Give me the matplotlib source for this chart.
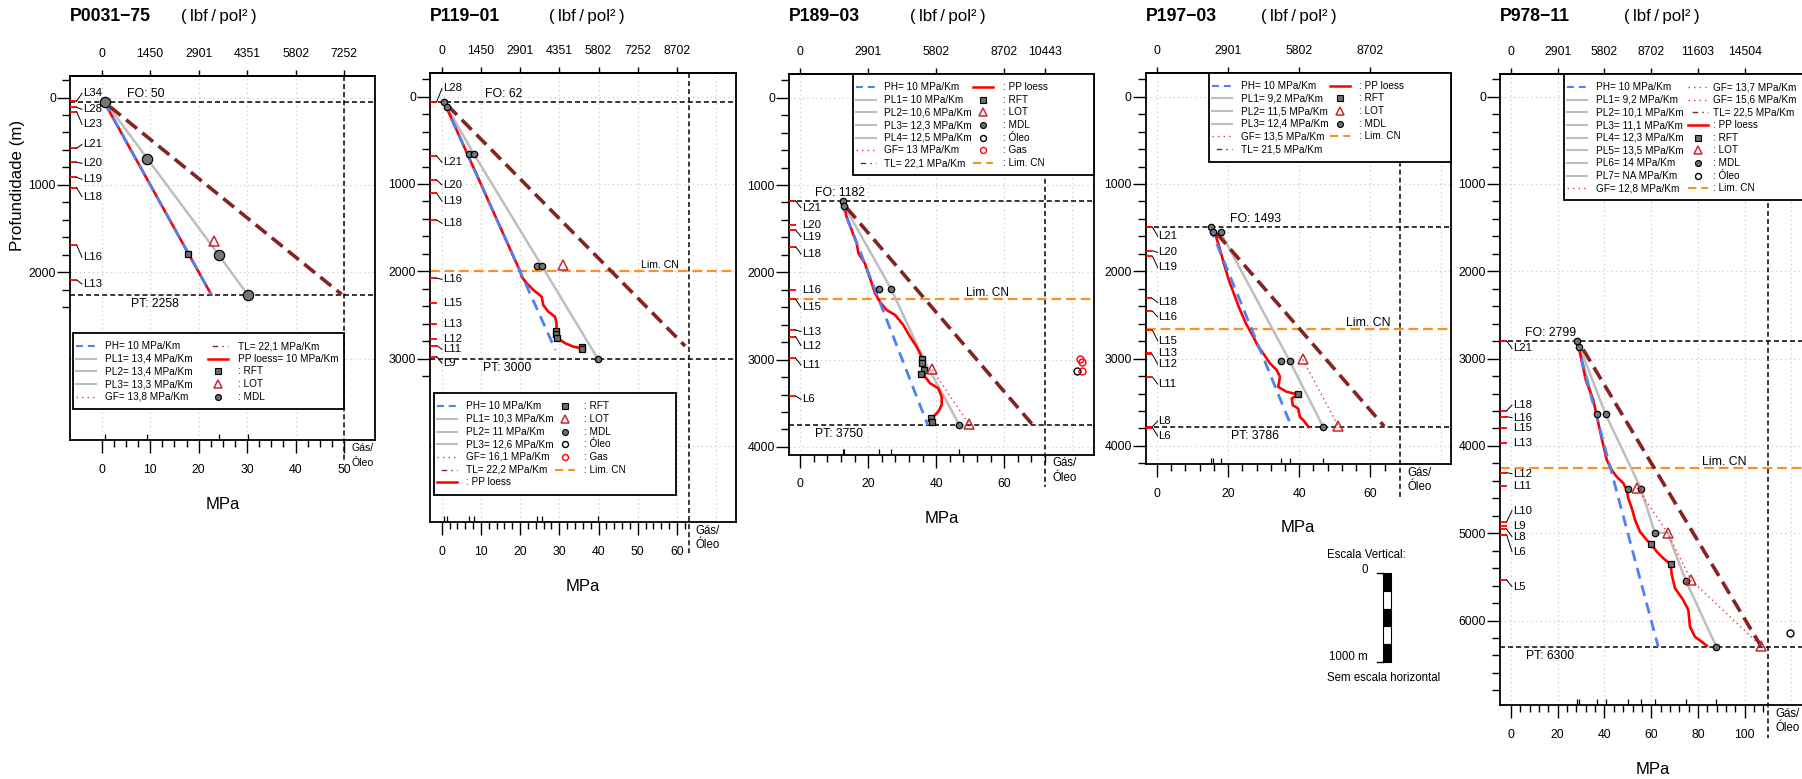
import matplotlib
matplotlib.use("Agg")
import matplotlib.pyplot as plt
from matplotlib.patches import Rectangle
from matplotlib.ticker import FixedLocator, FuncFormatter, NullLocator

plt.rcParams['font.family'] = ['Liberation Sans', 'DejaVu Sans']
plt.rcParams['lines.scale_dashes'] = False

# ======================= DATA =======================
WELLS = ["P0031−75", "P119−01", "P189−03", "P197−03", "P978−11"]
FO_DEPTH = [50, 62, 1182, 1493, 2799]
PT_DEPTH = [2258, 3000, 3750, 3786, 6300]
GAS_OLEO_MPA = [50, 63, 72, 68.4, 110.1]
LIM_CN_DEPTH = [None, 2000, 2302, 2664, 4253]

# hydrostatic pressure line (PH) end points
PH_MPA = [[0.5, 22.6], [0.6, 29.0], [11.8, 37.5], [14.9, 37.9], [28.0, 63.0]]
PH_DEPTH = [[50, 2258], [62, 2900], [1182, 3750], [1493, 3786], [2799, 6300]]
# TL line end points
TL_MPA = [[1.7, 49.5], [1.4, 62.1], [13.6, 68.4], [16.8, 63.9], [30.9, 106.9]]
TL_DEPTH = [[105, 2255], [95, 2856], [1259, 3749], [1566, 3775], [2896, 6290]]

# PL (gray) polylines per well
PL1_MPA = [[0.75, 9.4, 24.1, 30.1]]
PL1_DEPTH = [[50, 700, 1800, 2258]]
PL2_MPA = [[0.6, 8.2, 25.5, 39.8]]
PL2_DEPTH = [[62, 656, 1935, 3000]]
PL3_MPA = [[12.9, 26.8, 36.2, 46.8]]
PL3_DEPTH = [[1236, 2196, 2990, 3749]]
PL4_MPA = [[17.9, 37.3, 46.8]]
PL4_DEPTH = [[1555, 3026, 3786]]
PL5_MPA = [[28.4, 40.5, 55.6, 61.6, 67.0], [29.0, 36.7], [67.0, 74.8, 87.9]]
PL5_DEPTH = [[2798, 3638, 4490, 4998, 4994], [2867, 3638], [4994, 5544, 6300]]

# PP loess (red) traces
PP1_MPA = [0.5, 22.6]
PP1_DEPTH = [50, 2258]
PP2_MPA = [0.6, 20.0, 20.4, 21.7, 23.4, 25.5, 25.9, 27.2, 28.9, 29.3, 29.3, 29.7, 31.5, 33.6, 35.7]
PP2_DEPTH = [62, 2000, 2062, 2138, 2214, 2291, 2386, 2462, 2520, 2596, 2672, 2768, 2825, 2863, 2882]
PP3_MPA = [12.9, 13.6, 15.1, 16.6, 17.1, 19.0, 20.0, 21.0, 22.0, 23.4, 25.4, 27.9, 30.3, 32.3,
           34.2, 35.7, 36.2, 36.7, 38.2, 40.6, 41.6, 41.6, 40.6, 39.1, 38.7]
PP3_DEPTH = [1236, 1363, 1515, 1668, 1783, 1897, 2012, 2126, 2241, 2337, 2432, 2489, 2604, 2738,
             2852, 2967, 3119, 3196, 3272, 3329, 3425, 3520, 3597, 3654, 3730]
PP4_MPA = [16.3, 17.5, 18.8, 20.2, 21.6, 23.0, 25.0, 27.1, 28.5, 29.9, 31.8, 33.7, 34.6, 34.1,
           36.5, 39.7, 37.9, 38.2, 39.7, 40.2, 41.2, 42.6]
PP4_DEPTH = [1566, 1719, 1910, 2101, 2254, 2407, 2597, 2751, 2865, 2941, 3056, 3132, 3209, 3324,
             3381, 3411, 3457, 3534, 3572, 3668, 3706, 3782]
PP5_MPA = [29.0, 32.0, 35.2, 38.8, 41.0, 43.1, 45.2, 48.1, 49.5, 50.2, 51.7, 53.1, 55.2, 58.1,
           60.0, 62.4, 65.2, 68.3, 68.8, 70.2, 73.7, 75.9, 76.6, 78.7, 81.6, 83.8]
PP5_DEPTH = [2867, 3245, 3474, 3913, 4161, 4276, 4352, 4429, 4505, 4601, 4715, 4849, 4983, 5078,
             5128, 5212, 5288, 5357, 5479, 5631, 5765, 5880, 6071, 6186, 6243, 6289]

# MDL points
MDL_MPA = [[0.75, 9.4, 24.1, 30.1],
           [0.6, 1.3, 7.0, 8.2, 24.2, 25.5, 39.8],
           [12.5, 12.9, 23.1, 26.8, 46.8],
           [15.1, 15.8, 17.9, 34.8, 37.3, 46.8],
           [28.4, 29.0, 36.7, 40.5, 50.2, 55.6, 61.6, 74.8, 87.9]]
MDL_DEPTH = [[50, 700, 1800, 2258],
             [62, 115, 656, 656, 1935, 1935, 3000],
             [1183, 1236, 2196, 2196, 3749],
             [1493, 1555, 1555, 3026, 3026, 3786],
             [2798, 2867, 3638, 3638, 4490, 4490, 4998, 5544, 6300]]
# RFT points
RFT_MPA = [[17.9], [29.1, 29.2, 29.3, 35.7, 35.8], [35.7, 35.9, 36.4, 35.5, 38.5, 38.7], [39.7], [60.0, 68.3]]
RFT_DEPTH = [[1790], [2680, 2720, 2765, 2870, 2895], [2993, 3043, 3120, 3166, 3673, 3711], [3411], [5128, 5357]]
# LOT points
LOT_MPA = [[23.1], [31.0], [38.8, 49.7], [41.0, 51.0], [53.9, 67.0, 77.0, 106.9]]
LOT_DEPTH = [[1646], [1927], [3113, 3743], [3010, 3775], [4479, 4994, 5536, 6290]]
# Oleo / Gas shows
OLEO_MPA = [[], [], [81.5], [], [119.4]]
OLEO_DEPTH = [[], [], [3125], [], [6147]]
GAS_MPA = [[], [], [82.2, 82.8, 82.8], [], []]
GAS_DEPTH = [[], [], [2990, 3030, 3125], [], []]

# formation tops
FORM_NAMES = [["L34", "L28", "L23", "L21", "L20", "L19", "L18", "L16", "L13"],
              ["L28", "L21", "L20", "L19", "L18", "L16", "L15", "L13", "L12", "L11", "L9"],
              ["L21", "L20", "L19", "L18", "L16", "L15", "L13", "L12", "L11", "L6"],
              ["L21", "L20", "L19", "L18", "L16", "L15", "L13", "L12", "L11", "L8", "L6"],
              ["L21", "L18", "L16", "L15", "L13", "L12", "L11", "L10", "L9", "L8", "L6", "L5"]]
FORM_TOP = [[40, 113, 162, 582, 743, 914, 1033, 1690, 2090],
            [57, 679, 954, 1107, 1412, 2080, 2366, 2603, 2775, 2851, 2977],
            [1183, 1458, 1516, 1707, 2203, 2310, 2661, 2738, 2986, 3417],
            [1493, 1765, 1826, 2311, 2456, 2674, 2934, 2953, 3209, 3778, 3793],
            [2798, 3597, 3665, 3791, 3970, 4307, 4459, 4868, 4914, 4956, 5021, 5536]]
FORM_LABEL = [[-48, 136, 308, 537, 754, 937, 1136, 1831, 2136],
              [-95, 752, 1011, 1195, 1450, 2092, 2366, 2603, 2775, 2893, 3053],
              [1260, 1458, 1592, 1790, 2203, 2401, 2680, 2840, 3062, 3455],
              [1597, 1784, 1955, 2357, 2521, 2797, 2934, 3063, 3293, 3717, 3885],
              [2882, 3531, 3677, 3791, 3970, 4318, 4459, 4742, 4914, 5040, 5212, 5613]]

# axis ticks
TOP_TICKS_MPA = [[0, 10, 20, 30, 40, 50], [0, 10, 20, 30, 40, 50, 60], [0, 20, 40, 60, 72],
                 [0, 20, 40, 60], [0, 20, 40, 60, 80, 100]]
BOTTOM_TICKS_MPA = [[0, 10, 20, 30, 40, 50], [0, 10, 20, 30, 40, 50, 60], [0, 20, 40, 60],
                    [0, 20, 40, 60], [0, 20, 40, 60, 80, 100]]
MINOR_STEP = [2.5, 2, 4, 4, 4]
MINOR_MAX = [50, 62, 72, 64, 108]
GRID_STEP = [10, 10, 20, 20, 20]
DEPTH_TICK_MAX = [2400, 3200, 4000, 4200, 6800]
PSI_PER_MPA = 145.0377

# legends (column 1, column 2)
LEG1 = [[("PH", "PH= 10 MPa/Km"), ("PL", "PL1= 13,4 MPa/Km"), ("PL", "PL2= 13,4 MPa/Km"),
         ("PL", "PL3= 13,3 MPa/Km"), ("GF", "GF= 13,8 MPa/Km")],
        [("PH", "PH= 10 MPa/Km"), ("PL", "PL1= 10,3 MPa/Km"), ("PL", "PL2= 11 MPa/Km"),
         ("PL", "PL3= 12,6 MPa/Km"), ("GF", "GF= 16,1 MPa/Km"), ("TL", "TL= 22,2 MPa/Km"),
         ("PP", ": PP loess")],
        [("PH", "PH= 10 MPa/Km"), ("PL", "PL1= 10 MPa/Km"), ("PL", "PL2= 10,6 MPa/Km"),
         ("PL", "PL3= 12,3 MPa/Km"), ("PL", "PL4= 12,5 MPa/Km"), ("GF", "GF= 13 MPa/Km"),
         ("TL", "TL= 22,1 MPa/Km")],
        [("PH", "PH= 10 MPa/Km"), ("PL", "PL1= 9,2 MPa/Km"), ("PL", "PL2= 11,5 MPa/Km"),
         ("PL", "PL3= 12,4 MPa/Km"), ("GF", "GF= 13,5 MPa/Km"), ("TL", "TL= 21,5 MPa/Km")],
        [("PH", "PH= 10 MPa/Km"), ("PL", "PL1= 9,2 MPa/Km"), ("PL", "PL2= 10,1 MPa/Km"),
         ("PL", "PL3= 11,1 MPa/Km"), ("PL", "PL4= 12,3 MPa/Km"), ("PL", "PL5= 13,5 MPa/Km"),
         ("PL", "PL6= 14 MPa/Km"), ("PL", "PL7= NA MPa/Km"), ("GF", "GF= 12,8 MPa/Km")]]
LEG2 = [[("TL", "TL= 22,1 MPa/Km"), ("PP", "PP loess= 10 MPa/Km"), ("RFT", ": RFT"),
         ("LOT", ": LOT"), ("MDL", ": MDL")],
        [("RFT", ": RFT"), ("LOT", ": LOT"), ("MDL", ": MDL"), ("OLEO", ": Óleo"),
         ("GAS", ": Gas"), ("CN", ": Lim. CN")],
        [("PP", ": PP loess"), ("RFT", ": RFT"), ("LOT", ": LOT"), ("MDL", ": MDL"),
         ("OLEO", ": Óleo"), ("GAS", ": Gas"), ("CN", ": Lim. CN")],
        [("PP", ": PP loess"), ("RFT", ": RFT"), ("LOT", ": LOT"), ("MDL", ": MDL"),
         ("CN", ": Lim. CN")],
        [("GF", "GF= 13,7 MPa/Km"), ("GF", "GF= 15,6 MPa/Km"), ("TL", "TL= 22,5 MPa/Km"),
         ("PP", ": PP loess"), ("RFT", ": RFT"), ("LOT", ": LOT"), ("MDL", ": MDL"),
         ("OLEO", ": Óleo"), ("CN", ": Lim. CN")]]

PL_MPA = [PL1_MPA, PL2_MPA, PL3_MPA, PL4_MPA, PL5_MPA]
PL_DEPTH = [PL1_DEPTH, PL2_DEPTH, PL3_DEPTH, PL4_DEPTH, PL5_DEPTH]
PP_MPA = [PP1_MPA, PP2_MPA, PP3_MPA, PP4_MPA, PP5_MPA]
PP_DEPTH = [PP1_DEPTH, PP2_DEPTH, PP3_DEPTH, PP4_DEPTH, PP5_DEPTH]

# ======================= LAYOUT / STYLE =======================
W, H = 1802, 779
BOXES = [(70, 76, 375, 440), (430, 72.7, 735.7, 522.2), (789, 74, 1094, 454.7),
         (1145.7, 72.7, 1450.7, 464), (1500, 74, 1805, 705)]
X0 = [101.7, 441.7, 800.3, 1157, 1511]
PPM = [4.847, 3.92, 3.399, 3.555, 2.3367]
Y0 = [97.5, 96.7, 97.7, 96.7, 96.7]
PPK = 87.3
FO_TXT_X = [9.1, 15.9, 11.7, 27.8, 17.1]
PT_TXT_X = [11.0, 16.6, 11.4, 27.6, 16.7]
CN_TXT_X = [None, 55.7, 55.2, 59.3, 91.2]
CN_TXT_FS = [8.5, 7.6, 8.6, 8.8, 8.8]
LBF_CX = [218.5, 587, 948, 1299, 1662]
GAS_EXT = [22, 32, 32, 33, 33]
LEG_BOX = [(73, 333, 344, 409), (434.3, 393.3, 675.7, 494.6), (852.7, 74, 1094, 175),
           (1209.3, 72.7, 1450.7, 161.7), (1564, 74, 1805, 200)]
LEG_COL2 = [135.3, 120.7, 120.7, 120.7, 124.3]
LEG_TXT2 = [29.4, 29.0, 29.4, 29.0, 25.0]

BLUE = '#4f80f5'
GRAY = '#bebebe'
DARKRED = '#852323'
ORANGE = '#f7931e'
LOTC = '#c8282d'
FS_TICK = 8.8

fig = plt.figure(figsize=(W / 100, H / 100), dpi=100)
ov = fig.add_axes([0, 0, 1, 1])
ov.set_xlim(0, W)
ov.set_ylim(H, 0)
ov.axis('off')
ov.set_zorder(10)


def sample(kind, x1, y):
    x2 = x1 + 20
    xc = x1 + 10
    if kind == 'PH':
        ov.plot([x1, x2], [y, y], color=BLUE, lw=1.5, ls=(0, (5, 3.5)), zorder=12)
    elif kind == 'PL':
        ov.plot([x1, x2], [y, y], color=GRAY, lw=1.5, zorder=12)
    elif kind == 'GF':
        ov.plot([x1, x2], [y, y], color='#e03a3a', lw=1.0, ls=(0, (1, 3)), zorder=12)
    elif kind == 'TL':
        ov.plot([x1, x2], [y, y], color=DARKRED, lw=1.0, ls=(1, (1, 3, 4, 3)), zorder=12)
    elif kind == 'PP':
        ov.plot([x1, x2], [y, y], color='red', lw=1.8, zorder=12)
    elif kind == 'CN':
        ov.plot([x1, x2], [y, y], color=ORANGE, lw=1.5, ls=(0, (6, 3.5)), zorder=12)
    elif kind == 'RFT':
        ov.plot([xc], [y], marker='s', ms=4.3, mfc='#6e6e6e', mec='k', mew=0.8, zorder=12)
    elif kind == 'LOT':
        ov.plot([xc], [y], marker='^', ms=5.5, mfc='none', mec=LOTC, mew=1.1, zorder=12)
    elif kind == 'MDL':
        ov.plot([xc], [y], marker='o', ms=4.3, mfc='#6e6e6e', mec='k', mew=0.8, zorder=12)
    elif kind == 'OLEO':
        ov.plot([xc], [y], marker='o', ms=4.3, mfc='none', mec='k', mew=1.0, zorder=12)
    elif kind == 'GAS':
        ov.plot([xc], [y], marker='o', ms=4.3, mfc='none', mec='red', mew=1.0, zorder=12)


def draw_legend(i):
    l, t, r, b = LEG_BOX[i]
    ov.add_patch(Rectangle((l, t), r - l, b - t, facecolor='white', edgecolor='black',
                           lw=1.3, zorder=11))
    for items, dx, tdx in ((LEG1[i], 3.0, 28.7), (LEG2[i], LEG_COL2[i], LEG_TXT2[i])):
        for k, (kind, label) in enumerate(items):
            y = t + 13 + k * 12.67
            sample(kind, l + dx, y)
            ov.text(l + dx + tdx, y, label, fontsize=7.2, ha='left', va='center', zorder=12)


for i in range(5):
    l, t, r, b = BOXES[i]
    ax = fig.add_axes([l / W, 1 - b / H, (r - l) / W, (b - t) / H])
    xl, xr = (l - X0[i]) / PPM[i], (r - X0[i]) / PPM[i]
    yb, yt = (b - Y0[i]) / PPK * 1000, (t - Y0[i]) / PPK * 1000
    ax.set_xlim(xl, xr)
    ax.set_ylim(yb, yt)
    pxm = 1.0 / PPM[i]           # MPa per pixel
    pxd = 1000.0 / PPK           # m per pixel
    for s in ax.spines.values():
        s.set_linewidth(1.3)

    # ---- left depth axis
    majors = [d for d in range(0, DEPTH_TICK_MAX[i] + 1, 1000)]
    minors = [d for d in range(-200, DEPTH_TICK_MAX[i] + 1, 200) if d % 1000 != 0]
    ax.yaxis.set_major_locator(FixedLocator(majors))
    ax.yaxis.set_minor_locator(FixedLocator(minors))
    ax.yaxis.set_major_formatter(FuncFormatter(lambda v, p: f"{int(round(v))}"))
    ax.tick_params(axis='y', which='major', direction='out', length=9.6, width=1.0,
                   pad=0.5, labelsize=FS_TICK)
    ax.tick_params(axis='y', which='minor', direction='out', length=5.8, width=1.0)

    # ---- bottom MPa axis
    nmin = int(round(MINOR_MAX[i] / MINOR_STEP[i]))
    xminors = [k * MINOR_STEP[i] for k in range(nmin + 1)]
    xminors = [v for v in xminors if all(abs(v - m) > 1e-6 for m in BOTTOM_TICKS_MPA[i])]
    ax.xaxis.set_major_locator(FixedLocator(BOTTOM_TICKS_MPA[i]))
    ax.xaxis.set_minor_locator(FixedLocator(xminors))
    ax.xaxis.set_major_formatter(FuncFormatter(lambda v, p: f"{v:g}"))
    ax.tick_params(axis='x', which='major', direction='out', length=9.1, width=1.0,
                   pad=8.0, labelsize=FS_TICK)
    ax.tick_params(axis='x', which='minor', direction='out', length=4.8, width=1.0)

    # ---- top psi axis
    sec = ax.secondary_xaxis('top')
    sec.xaxis.set_major_locator(FixedLocator(TOP_TICKS_MPA[i]))
    sec.xaxis.set_minor_locator(NullLocator())
    sec.set_xticklabels([str(int(round(m * PSI_PER_MPA))) for m in TOP_TICKS_MPA[i]])
    sec.tick_params(axis='x', direction='out', length=4.3, width=1.0, pad=7.3, labelsize=FS_TICK)
    sec.spines['top'].set_linewidth(1.3)

    # ---- grid
    gs = GRID_STEP[i]
    v = 0
    while v < xr:
        ax.axvline(v, color='#d2d2d2', lw=0.9, ls=(0, (1, 2.2)), zorder=0.5)
        v += gs
    for d in range(0, int(yb) + 1, 1000):
        ax.axhline(d, color='#d2d2d2', lw=0.9, ls=(0, (1, 2.2)), zorder=0.5)

    # ---- reference lines
    ax.axhline(FO_DEPTH[i], color='k', lw=1.1, ls=(0, (3.6, 2.2)), zorder=1)
    ax.axhline(PT_DEPTH[i], color='k', lw=1.1, ls=(0, (3.6, 2.2)), zorder=1)
    g = GAS_OLEO_MPA[i]
    ax.plot([g, g], [yt, yb + GAS_EXT[i] * pxd], color='k', lw=1.1, ls=(0, (3.6, 2.2)),
            zorder=1, clip_on=False)
    gfs = 7.6 if i == 0 else 8.3
    ax.text(g + 7 * pxm, yb + 8.5 * pxd, "Gás/", fontsize=gfs, ha='left', va='center')
    ax.text(g + 7 * pxm, yb + 23 * pxd, "Óleo", fontsize=gfs, ha='left', va='center')
    if LIM_CN_DEPTH[i] is not None:
        ax.axhline(LIM_CN_DEPTH[i], color=ORANGE, lw=1.6, ls=(0, (7, 3.5)), zorder=1.5)
        ax.text(CN_TXT_X[i], LIM_CN_DEPTH[i] - 6 * pxd, "Lim. CN", fontsize=CN_TXT_FS[i],
                ha='center', va='center')
    ax.text(FO_TXT_X[i], FO_DEPTH[i] - 8 * pxd, f"FO: {FO_DEPTH[i]}", fontsize=8.8,
            ha='center', va='center', zorder=7)
    ax.text(PT_TXT_X[i], PT_DEPTH[i] + 9 * pxd, f"PT: {PT_DEPTH[i]}", fontsize=8.8,
            ha='center', va='center', zorder=7)

    # ---- pressure curves
    for xs, ds in zip(PL_MPA[i], PL_DEPTH[i]):
        ax.plot(xs, ds, color=GRAY, lw=1.8, zorder=2, solid_capstyle='butt')
    ax.plot(PP_MPA[i], PP_DEPTH[i], color='red', lw=1.9, zorder=3)
    ax.plot(PH_MPA[i], PH_DEPTH[i], color=BLUE, lw=2.0, ls=(0, (8, 5)), zorder=4)
    if len(LOT_MPA[i]) > 1:
        ax.plot(LOT_MPA[i], LOT_DEPTH[i], color='#e03a3a', lw=1.0, ls=(0, (1, 2.5)), zorder=4)
    ax.plot(TL_MPA[i], TL_DEPTH[i], color=DARKRED, lw=2.6, ls=(0, (10, 5)), zorder=5)

    big = (i == 0)
    ax.plot(MDL_MPA[i], MDL_DEPTH[i], ls='none', marker='o', ms=7.4 if big else 4.6,
            mfc='#767676', mec='k', mew=0.9, zorder=6)
    ax.plot(RFT_MPA[i], RFT_DEPTH[i], ls='none', marker='s', ms=4.6,
            mfc='#6e6e6e', mec='k', mew=0.9, zorder=6)
    ax.plot(LOT_MPA[i], LOT_DEPTH[i], ls='none', marker='^', ms=6.5,
            mfc='none', mec=LOTC, mew=1.1, zorder=6)
    if OLEO_MPA[i]:
        ax.plot(OLEO_MPA[i], OLEO_DEPTH[i], ls='none', marker='o', ms=5, mfc='none',
                mec='k', mew=1.0, zorder=6, clip_on=False)
    if GAS_MPA[i]:
        ax.plot(GAS_MPA[i], GAS_DEPTH[i], ls='none', marker='o', ms=5, mfc='none',
                mec='red', mew=1.0, zorder=6, clip_on=False)

    # ---- rug of MDL pressures
    ax.vlines(MDL_MPA[i], yb, yb - 6 * pxd, color='k', lw=0.9, zorder=6)

    # ---- formation tops
    for name, dtop, dlab in zip(FORM_NAMES[i], FORM_TOP[i], FORM_LABEL[i]):
        ax.plot([xl, xl + 6.7 * pxm], [dtop, dtop], color='red', lw=1.3, zorder=6,
                clip_on=False, solid_capstyle='butt')
        if abs(dlab - dtop) > 8:
            ax.plot([xl + 6.7 * pxm, xl + 12.0 * pxm], [dtop, dlab], color='k', lw=0.7,
                    zorder=6)
        ax.text(xl + 12.7 * pxm, dlab, name, fontsize=8.2, ha='left', va='center', zorder=7)

    # ---- titles, labels, legend (figure pixel coordinates)
    ov.text(l, 16.7, WELLS[i], fontsize=12.7, fontweight='bold', ha='left', va='center')
    ov.text(LBF_CX[i], 16.7, "(\u2009lbf\u2009/\u2009pol²\u2009)", fontsize=12.2,
            ha='center', va='center')
    ov.text((l + r) / 2, b + 64, "MPa", fontsize=12, ha='center', va='center')
    draw_legend(i)

ov.text(18, 185, "Profundidade (m)", fontsize=12.2, rotation=90, ha='center', va='center')

# ---- vertical scale bar
ov.text(1327, 555, "Escala Vertical:", fontsize=8.3, ha='left', va='center')
ov.text(1365, 570, "0", fontsize=8.3, ha='center', va='center')
seg = (661.7 - 573.3) / 5
for k in range(5):
    ov.add_patch(Rectangle((1382.7, 573.3 + k * seg), 8, seg,
                           facecolor='black' if k % 2 == 0 else 'white',
                           edgecolor='black', lw=0.8, zorder=11))
ov.plot([1376.7, 1382.7], [573.3, 573.3], color='k', lw=1.0)
ov.plot([1376.7, 1382.7], [661.7, 661.7], color='k', lw=1.0)
ov.text(1368, 657.5, "1000 m", fontsize=8.3, ha='right', va='center')
ov.text(1327, 678, "Sem escala horizontal", fontsize=8.3, ha='left', va='center')

fig.savefig("out.png", dpi=100)
